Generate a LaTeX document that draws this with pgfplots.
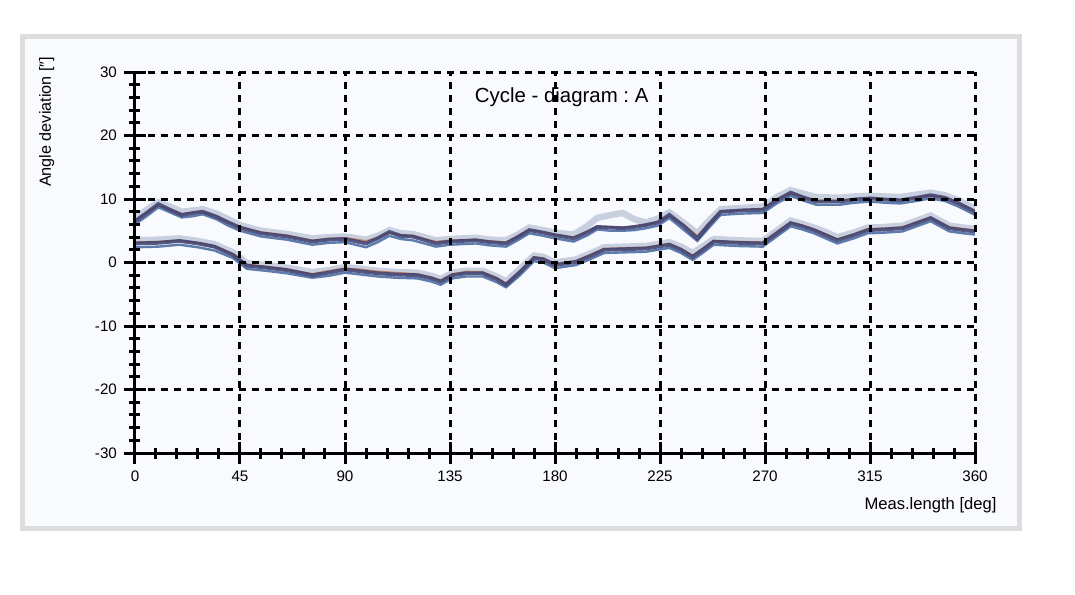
\documentclass[border=0pt]{standalone}
\usepackage{fontspec}
\setmainfont{Liberation Sans}
\usepackage{pgfplots}
\usepackage{pgfplotstable}
\pgfplotsset{compat=1.18}
\frenchspacing
\definecolor{navy}{HTML}{3B3E6E}
\definecolor{lightband}{HTML}{A9B5CE}
\definecolor{steel}{HTML}{4E6EA6}
\definecolor{rust}{HTML}{C27B5C}
\definecolor{framegray}{HTML}{DCDDDD}
\definecolor{bgcol}{HTML}{F8FAFD}

\pgfplotstableread{
x a b c d
0 6.5 7.0 6.6 6.0
5 7.8 8.3 7.9 7.3
10 9.2 9.5 9.0 8.7
15 8.3 8.8 8.4 7.9
20 7.5 8.0 7.6 7.1
25 7.8 8.2 7.9 7.3
29 8.0 8.4 8.0 7.6
35 7.2 7.7 7.3 6.8
40 6.3 6.8 6.4 5.8
45 5.5 5.9 5.6 5.0
54 4.6 5.0 4.8 4.1
65 4.1 4.5 4.3 3.6
76 3.3 3.8 3.5 2.8
83 3.6 4.0 3.8 3.1
90 3.7 4.1 3.9 3.2
99 3.0 3.6 3.4 2.4
104 3.8 4.2 3.9 3.2
109 4.8 5.1 4.7 4.2
114 4.2 4.6 4.3 3.7
119 4.1 4.5 4.2 3.5
129 3.0 3.5 3.3 2.5
135 3.3 3.7 3.5 2.8
146 3.5 3.9 3.6 3.0
152 3.2 3.6 3.4 2.7
159 3.0 3.5 3.2 2.5
164 4.0 4.4 4.1 3.5
169 5.1 5.5 5.2 4.6
175 4.7 5.1 4.8 4.2
180 4.3 4.7 4.4 3.8
188 3.8 4.4 4.0 3.3
194 4.8 5.8 4.9 4.3
198 5.6 7.0 5.6 5.2
204 5.5 7.5 5.6 5.0
209 5.4 7.8 5.5 5.0
214 5.6 6.8 5.7 5.1
219 5.9 6.3 5.9 5.4
224 6.3 6.9 6.4 5.8
229 7.5 7.9 7.3 7.0
235 5.8 6.3 6.0 5.2
241 3.8 4.6 4.2 3.4
246 6.0 6.6 6.2 5.5
251 8.0 8.4 8.0 7.5
260 8.2 8.6 8.3 7.7
269 8.3 8.8 8.5 7.8
275 9.8 10.3 9.9 9.3
281 11.0 11.4 10.9 10.5
286 10.3 10.9 10.4 9.8
292 9.6 10.3 9.7 9.1
302 9.6 10.2 9.8 9.1
308 9.9 10.4 10.0 9.4
315 10.1 10.5 10.2 9.6
322 9.9 10.4 10.0 9.4
328 9.8 10.3 9.9 9.3
335 10.2 10.7 10.3 9.7
341 10.6 11.0 10.5 10.1
347 10.2 10.6 10.3 9.7
353 9.3 9.8 9.4 8.8
360 8.0 8.5 8.1 7.5
}\upperband

\pgfplotstableread{
x a b c d
0 3.0 3.5 3.2 2.4
10 3.1 3.6 3.3 2.5
19 3.4 3.8 3.5 2.8
27 3.0 3.4 3.1 2.4
34 2.5 2.9 2.6 1.9
42 1.2 1.6 1.3 0.7
48 -0.5 -0.1 -0.3 -1.0
56 -0.8 -0.4 -0.6 -1.3
65 -1.2 -0.8 -1.0 -1.7
76 -2.0 -1.5 -1.8 -2.4
83 -1.6 -1.2 -1.3 -2.1
90 -1.1 -0.7 -0.9 -1.6
97 -1.4 -1.0 -1.1 -1.9
104 -1.7 -1.3 -1.4 -2.2
112 -1.9 -1.5 -1.6 -2.4
121 -2.0 -1.6 -1.8 -2.5
127 -2.5 -2.1 -2.3 -3.0
131 -3.0 -2.6 -2.8 -3.5
136 -2.0 -1.6 -1.8 -2.5
142 -1.7 -1.3 -1.4 -2.2
149 -1.7 -1.3 -1.5 -2.2
155 -2.6 -2.2 -2.4 -3.1
159 -3.5 -3.0 -3.3 -3.9
165 -1.5 -1.0 -1.3 -2.0
171 0.7 1.1 0.9 0.2
175 0.5 0.9 0.7 0.0
180 -0.4 0.0 -0.2 -0.9
189 0.1 0.5 0.3 -0.4
195 1.0 1.4 1.2 0.5
201 2.0 2.4 2.2 1.5
210 2.1 2.5 2.3 1.6
219 2.2 2.6 2.4 1.7
229 2.8 3.2 3.0 2.3
234 2.0 2.5 2.2 1.5
239 0.9 1.5 1.1 0.4
244 2.2 2.7 2.4 1.7
248 3.3 3.7 3.4 2.8
258 3.1 3.5 3.3 2.6
269 3.0 3.4 3.2 2.5
275 4.6 5.0 4.8 4.1
281 6.2 6.6 6.3 5.7
286 5.7 6.1 5.9 5.2
291 5.1 5.5 5.2 4.6
296 4.3 4.8 4.5 3.8
301 3.5 4.0 3.7 3.0
308 4.3 4.7 4.5 3.8
314 5.1 5.5 5.3 4.6
321 5.2 5.6 5.4 4.7
329 5.4 5.8 5.6 4.9
335 6.2 6.6 6.4 5.7
341 7.0 7.4 7.1 6.5
349 5.4 5.8 5.6 4.9
355 5.1 5.5 5.3 4.6
360 4.9 5.3 5.1 4.4
}\lowerband

\begin{document}
\begin{tikzpicture}
\useasboundingbox (-67.5pt,-70.5pt) rectangle (470pt,226.5pt);
\fill[white] (-67.5pt,-70.5pt) rectangle (470pt,226.5pt);
\draw[line width=2.5pt, draw=framegray, fill=bgcol] (-56.25pt,-37.75pt) rectangle (442.25pt,208.25pt);
\begin{axis}[
  at={(0pt,0pt)}, anchor=south west,
  scale only axis, width=420pt, height=190.5pt,
  xmin=0, xmax=360, ymin=-30, ymax=30,
  xtick={0,45,...,360}, ytick={-30,-20,...,30},
  minor xtick={0,9,...,360}, minor ytick={-30,-28,...,30},
  axis x line=bottom, axis y line=left,
  axis line style={-, line width=1.5pt, black},
  tick align=center, major tick length=11pt, minor tick length=5.5pt,
  major tick style={black, line width=1.5pt},
  minor tick style={black, line width=1.5pt},
  grid=major,
  major grid style={black, line width=1.5pt, dash pattern=on 3.5pt off 3pt},
  axis on top,
  ticklabel style={font=\fontsize{7.6}{9}\selectfont},
  /pgf/number format/assume math mode=true,
  xlabel={Meas.length [deg]},
  xlabel style={at={(axis description cs:1.034,-0.136)}, anchor=east, font=\fontsize{8.3}{10}\selectfont},
  ylabel={Angle deviation [″]},
  ylabel style={at={(axis description cs:-0.105,0.869)}, anchor=center, font=\fontsize{8.1}{10}\selectfont},
]
\addplot[lightband, line width=3.2pt, opacity=0.6] table[x=x,y=b] {\upperband};
\addplot[steel, line width=1.2pt, opacity=0.9] table[x=x,y=d] {\upperband};
\addplot[rust, line width=0.8pt, opacity=0.9] table[x=x,y=c] {\upperband};
\addplot[navy, line width=1.9pt, opacity=0.85] table[x=x,y=a] {\upperband};
\addplot[lightband, line width=3.2pt, opacity=0.6] table[x=x,y=b] {\lowerband};
\addplot[steel, line width=1.2pt, opacity=0.9] table[x=x,y=d] {\lowerband};
\addplot[rust, line width=0.8pt, opacity=0.9] table[x=x,y=c] {\lowerband};
\addplot[navy, line width=1.9pt, opacity=0.85] table[x=x,y=a] {\lowerband};
\node[font=\fontsize{10.2}{12}\selectfont] at (axis description cs:0.508,0.934) {Cycle - diagram : A};
\end{axis}
\end{tikzpicture}
\end{document}
